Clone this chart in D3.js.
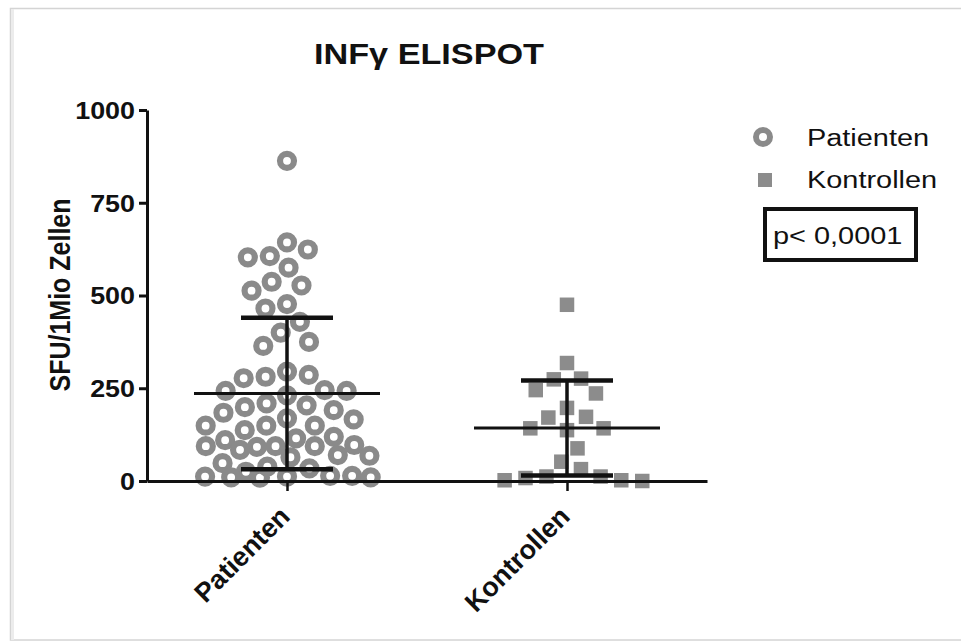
<!DOCTYPE html>
<html>
<head>
<meta charset="utf-8">
<script src="https://cdn.jsdelivr.net/npm/d3@7"></script>
<style>
  html, body { margin: 0; padding: 0; background: #fff; }
  svg { display: block; }
  text { font-family: "Liberation Sans", Arial, Helvetica, sans-serif; fill: #111; }
</style>
</head>
<body>
<svg id="chart" width="961" height="642"></svg>
<script>
// ---- data ----
const categories = ["Patienten", "Kontrollen"];
const patienten = [863, 643, 624, 606, 603, 575, 537, 527, 513, 477, 465, 429, 400, 375, 364,
  295, 286, 281, 277, 245, 243, 243, 231, 209, 204, 199, 191, 184, 169, 166,
  149, 149, 149, 137, 119, 115, 110, 97, 94, 94, 94, 92, 84, 70, 68, 64,
  48, 39, 34, 25, 14, 12, 10, 9, 10, 12, 14];
const kontrollen = [475, 318, 276, 274, 245, 236, 197, 173, 171, 142, 142, 137, 88, 52, 32, 12, 12, 8, 2, 2, 0];
const means = [236, 143];
const sds = [204, 128];
const yTicks = [0, 250, 500, 750, 1000];
const title = "INFγ ELISPOT";
const yLabel = "SFU/1Mio Zellen";
const pValue = "p< 0,0001";

const svg = d3.select("#chart");
const GRAY = "#8a8a8a";
const INK = "#111";

// frame
svg.append("rect").attr("x", 10.5).attr("y", 8.5).attr("width", 970).attr("height", 631.5)
  .attr("fill", "none").attr("stroke", "#d4d4d4").attr("stroke-width", 1.5);
svg.append("line").attr("x1", 12.5).attr("x2", 12.5).attr("y1", 9).attr("y2", 640)
  .attr("stroke", "#ececec").attr("stroke-width", 3);

// scales
const y = d3.scaleLinear().domain([0, 1000]).range([481, 110]);
const x = d3.scalePoint().domain(categories).range([147, 707]).padding(0.5);

// beeswarm layout (deterministic); width capped, overlap allowed when crowded
function swarm(values, diam, maxHalf) {
  const pts = values.map((v, i) => ({ v, i, y: y(v) })).sort((a, b) => b.v - a.v);
  const placed = [];
  let flip = 1;
  for (const p of pts) {
    let d = diam;
    let best = null;
    while (best === null) {
      const blocks = [];
      for (const q of placed) {
        const dy = Math.abs(q.y - p.y);
        if (dy < d) {
          const dx = Math.sqrt(d * d - dy * dy);
          blocks.push([q.dx - dx, q.dx + dx]);
        }
      }
      const cands = [0];
      blocks.forEach(b => { cands.push(b[0], b[1]); });
      const ok = c => Math.abs(c) <= maxHalf && blocks.every(b => c <= b[0] + 1e-6 || c >= b[1] - 1e-6);
      for (const c of cands) {
        if (!ok(c)) continue;
        if (best === null || Math.abs(c) < Math.abs(best) - 1e-6 ||
            (Math.abs(Math.abs(c) - Math.abs(best)) < 1e-6 && Math.sign(c) === flip)) best = c;
      }
      d *= 0.92;
    }
    if (best !== 0) flip = -flip;
    p.dx = best;
    placed.push(p);
  }
  return placed;
}

const gPts = svg.append("g");
const pPts = swarm(patienten, 22, 84);
gPts.selectAll("circle.pat").data(pPts).join("circle")
  .attr("class", "pat")
  .attr("cx", d => x("Patienten") + d.dx)
  .attr("cy", d => d.y)
  .attr("r", 7)
  .attr("fill", "none")
  .attr("stroke", GRAY)
  .attr("stroke-width", 6.2);

const kPts = swarm(kontrollen, 21, 80);
const sq = 14.5;
gPts.selectAll("rect.kon").data(kPts).join("rect")
  .attr("class", "kon")
  .attr("x", d => x("Kontrollen") + d.dx - sq / 2)
  .attr("y", d => d.y - sq / 2)
  .attr("width", sq).attr("height", sq)
  .attr("fill", "#8c8c8c");

// mean +- SD
const gStats = svg.append("g").attr("stroke", INK);
categories.forEach((c, i) => {
  const cx = x(c);
  gStats.append("line").attr("x1", cx - 93).attr("x2", cx + 93)
    .attr("y1", y(means[i])).attr("y2", y(means[i])).attr("stroke-width", 3);
  gStats.append("line").attr("x1", cx).attr("x2", cx)
    .attr("y1", y(means[i] + sds[i])).attr("y2", y(Math.max(0, means[i] - sds[i]))).attr("stroke-width", 3.5);
  [means[i] + sds[i], means[i] - sds[i]].forEach(v => {
    gStats.append("line").attr("x1", cx - 46).attr("x2", cx + 46)
      .attr("y1", y(v)).attr("y2", y(v)).attr("stroke-width", 4.5);
  });
});

// y axis
const yAxis = svg.append("g").attr("transform", "translate(147,0)")
  .call(d3.axisLeft(y).tickValues(yTicks).tickSize(8).tickSizeOuter(0).tickFormat(d3.format("d")));
yAxis.select(".domain").attr("stroke", INK).attr("stroke-width", 3);
yAxis.selectAll(".tick line").attr("stroke", INK).attr("stroke-width", 3);
yAxis.selectAll(".tick text")
  .attr("x", null).attr("dy", "0.35em")
  .attr("transform", "translate(-12,0) scale(1.12,1)")
  .attr("text-anchor", "end")
  .style("font-family", "'Liberation Sans', Arial, sans-serif")
  .style("font-size", "24px").style("font-weight", "bold").attr("fill", INK);

// x axis
const xAxis = svg.append("g").attr("transform", "translate(0,481)")
  .call(d3.axisBottom(x).tickSize(10).tickSizeOuter(0));
xAxis.select(".domain").attr("stroke", INK).attr("stroke-width", 3);
xAxis.selectAll(".tick line").attr("stroke", INK).attr("stroke-width", 2.5);
xAxis.selectAll(".tick text")
  .attr("x", null).attr("y", null).attr("dy", null)
  .attr("text-anchor", "end")
  .attr("transform", "translate(4,37) rotate(-45)")
  .style("font-family", "'Liberation Sans', Arial, sans-serif")
  .style("font-size", "27px").style("font-weight", "bold").attr("fill", INK);

// y label
svg.append("text")
  .attr("transform", "translate(70,295) rotate(-90) scale(1,1.15)")
  .attr("text-anchor", "middle")
  .style("font-size", "25px").style("font-weight", "bold")
  .text(yLabel);

// title
svg.append("text")
  .attr("transform", "translate(429,64) scale(1.18,1)")
  .attr("text-anchor", "middle")
  .style("font-size", "29px").style("font-weight", "bold")
  .text(title);

// legend
const legend = svg.append("g");
legend.append("circle").attr("cx", 763).attr("cy", 137).attr("r", 7)
  .attr("fill", "none").attr("stroke", GRAY).attr("stroke-width", 6);
legend.append("rect").attr("x", 765 - 7).attr("y", 180 - 7).attr("width", 14).attr("height", 14)
  .attr("fill", "#8c8c8c");
legend.append("text").attr("transform", "translate(807,146) scale(1.18,1)")
  .style("font-size", "24.5px").text(categories[0]);
legend.append("text").attr("transform", "translate(807,188) scale(1.18,1)")
  .style("font-size", "24.5px").text(categories[1]);
legend.append("rect").attr("x", 765).attr("y", 209).attr("width", 151).attr("height", 51)
  .attr("fill", "none").attr("stroke", INK).attr("stroke-width", 4);
legend.append("text").attr("transform", "translate(773,244) scale(1.18,1)")
  .style("font-size", "24.5px").text(pValue);
</script>
</body>
</html>
